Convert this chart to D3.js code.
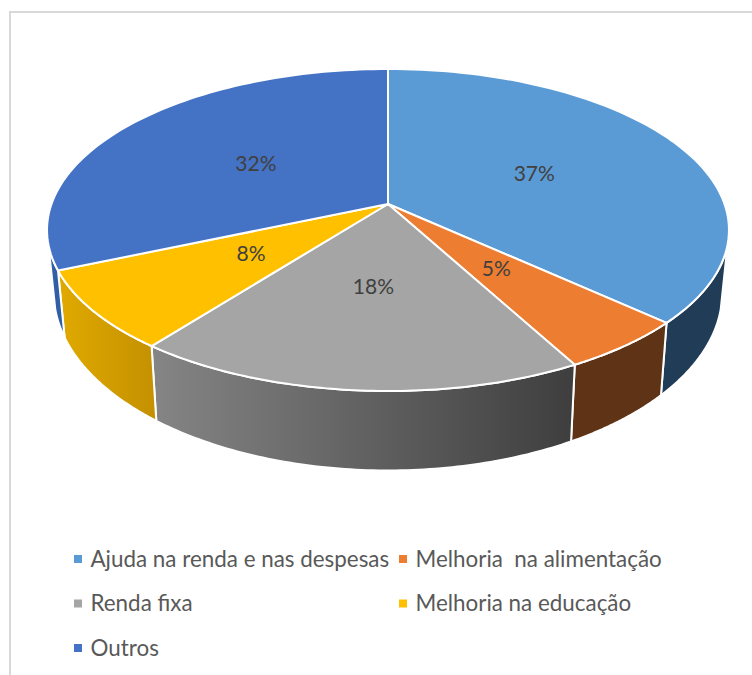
<!DOCTYPE html>
<html>
<head>
<meta charset="utf-8">
<script src="https://cdn.jsdelivr.net/npm/d3@7/dist/d3.min.js"></script>
<style>
html,body{margin:0;padding:0;background:#fff;overflow:hidden}
text{font-family:Lato,"Open Sans",sans-serif;white-space:pre}
</style>
</head>
<body>
<script>
const categories = ["Ajuda na renda e nas despesas","Melhoria  na alimentação","Renda fixa","Melhoria na educação","Outros"];
const values = [36.8,5.3,18.4,8.0,31.5];
const labels = ["37%","5%","18%","8%","32%"];
const topColors = ["#5B9BD5","#ED7D31","#A5A5A5","#FFC000","#4472C4"];
const wallLeft = ["#203C57","#5F3315","#858585","#E0AA00","#305FA6"];
const wallRight = ["#203C57","#5F3315","#3E3E3E","#C49000","#305FA6"];

const W=752,H=675;
const svg=d3.select("body").append("svg").attr("width",W).attr("height",H).style("display","block");
const defs=svg.append("defs");

// frame (right and bottom edges fall outside the crop)
svg.append("path").attr("d",`M10,${H}V12H${W}`).attr("fill","none").attr("stroke","#D9D9D9").attr("stroke-width",2);

// perspective projection of the unit disc to the screen
const cx=388, persp=0.1615, D=336.5, shrink=0.98;
const topA=-123.86, topB=204, botA=-130.5, botB=264;
const proj=(a,r,A,B,k)=>{
  const u=r*Math.sin(a), v=r*Math.cos(a), d=1+persp*v;
  return [cx+k*D*u/d,(A*v+B)/d];
};
const topPt=(a,r=1)=>proj(a,r,topA,topB,1);
const botPt=a=>proj(a,1,botA,botB,shrink);

const arcs=d3.pie().sort(null).value(d=>d)(values);
const line=d3.line();
const samples=(a0,a1)=>d3.range(0,81).map(i=>a0+(a1-a0)*i/80);

// visible outer wall range: the front part of the rim only
const wallStart=Math.acos(-0.25), wallEnd=2*Math.PI-wallStart;
const chart=svg.append("g");
const walls=chart.append("g");
arcs.forEach((d,i)=>{
  const a0=Math.max(d.startAngle,wallStart), a1=Math.min(d.endAngle,wallEnd);
  if(a1<=a0) return;
  const as=samples(a0,a1);
  const pts=as.map(a=>topPt(a)).concat(as.slice().reverse().map(botPt));
  const xs=d3.extent(pts,p=>p[0]);
  const id="wall"+i;
  const g=defs.append("linearGradient").attr("id",id).attr("gradientUnits","userSpaceOnUse")
    .attr("x1",xs[0]).attr("x2",xs[1]).attr("y1",0).attr("y2",0);
  g.append("stop").attr("offset",0).attr("stop-color",wallLeft[i]);
  g.append("stop").attr("offset",1).attr("stop-color",wallRight[i]);
  walls.append("path").attr("d",line(pts)+"Z").attr("fill",`url(#${id})`)
    .attr("stroke","#fff").attr("stroke-width",2).attr("stroke-linejoin","round");
});

// top face
const faces=chart.append("g");
arcs.forEach((d,i)=>{
  const pts=[topPt(0,0)].concat(samples(d.startAngle,d.endAngle).map(a=>topPt(a)));
  faces.append("path").attr("d",line(pts)+"Z").attr("fill",topColors[i])
    .attr("stroke","#fff").attr("stroke-width",2).attr("stroke-linejoin","round");
});

// data labels
arcs.forEach((d,i)=>{
  const p=topPt((d.startAngle+d.endAngle)/2,0.49);
  chart.append("text").attr("x",p[0]).attr("y",p[1]).attr("dy","0.35em")
    .attr("text-anchor","middle").attr("font-size",21).attr("fill","#404040").text(labels[i]);
});

// legend
const legX=d3.scalePoint().domain([0,1]).range([74,399]);
const legY=d3.scalePoint().domain([0,1,2]).range([559,648]);
const leg=svg.append("g");
categories.forEach((c,i)=>{
  const col=i%2,row=Math.floor(i/2);
  const g=leg.append("g").attr("transform",`translate(${legX(col)},${legY(row)})`);
  g.append("rect").attr("x",0).attr("y",-4).attr("width",8).attr("height",8).attr("fill",topColors[i]);
  g.append("text").attr("x",16.5).attr("y",0).attr("dy","0.35em").attr("font-size",22.4).attr("fill","#595959").text(c);
});
</script>
</body>
</html>
